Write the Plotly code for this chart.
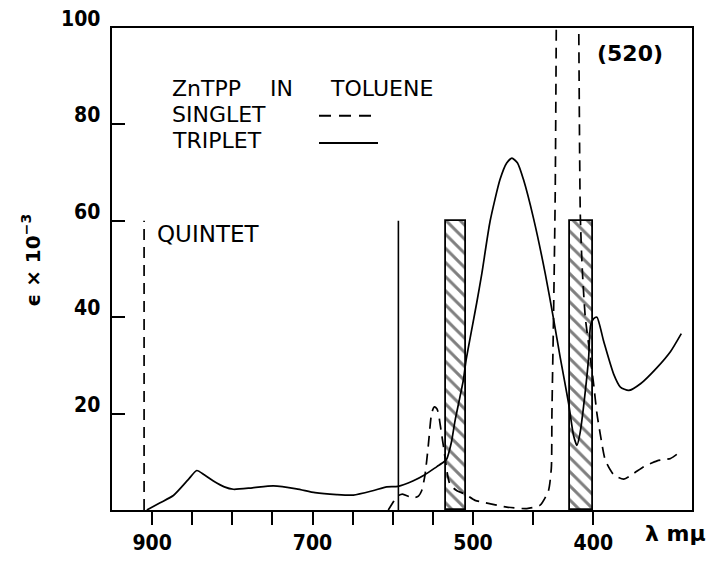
import numpy as np
import plotly.graph_objects as go

# ---------------- data (wavelength in nm, epsilon x 1e-3) ----------------
triplet_nm = [906.6, 890, 873.5, 855, 844.3, 835, 823.6, 810, 798.7, 775, 748.8, 720,
              696.9, 670, 649.1, 625, 607.5, 593.5, 575, 560, 545, 537, 533, 527,
              522.4, 512, 508.7, 496.9, 492.7, 485.8, 477.5, 472, 467.7, 463, 458.1,
              449.7, 440, 433.1, 427.5, 420.6, 416.4, 413.6, 411, 408.1, 403.9, 402.3,
              399.7, 397, 391.4, 383.1, 377.5, 370.6, 360.8, 346.9, 335.8, 326.9]
triplet_eps = [0.0, 1.5, 3.0, 6.3, 8.2, 7.3, 6.0, 4.8, 4.3, 4.6, 5.0, 4.4,
               3.6, 3.2, 3.1, 4.0, 4.8, 4.9, 6.0, 7.3, 9.0, 9.9, 10.5, 14.0,
               18.5, 27.0, 31.0, 43.0, 49.0, 59.9, 68.6, 72.0, 73.0, 72.0, 68.6,
               60.5, 49.1, 39.7, 31.6, 22.2, 15.4, 13.4, 16.0, 21.5, 31.6, 38.3,
               39.7, 40.0, 35.0, 28.2, 25.5, 24.8, 26.2, 29.6, 32.9, 36.6]

singlet_nm = [605.6, 600, 595, 588, 580, 574, 568, 564, 559.8, 555.7, 551.5, 548.2,
              545, 543.2, 537, 528.7, 520, 510, 498.3, 491.4, 471.9, 455.3, 444.2,
              437.3, 434.9, 434.4, 433.1, 431.7, 430.8, 428, 422, 416, 412.1,
              410.8, 409.2, 406.7, 404.2, 399.7, 397, 394.2, 390, 383, 374.7,
              366.4, 358, 347, 335.8, 329.7]
singlet_eps = [0.0, 1.5, 2.8, 3.3, 2.8, 2.5, 2.9, 4.0, 7.3, 13.4, 20.1, 21.4,
               21.0, 20.1, 13.4, 5.3, 4.0, 3.3, 2.0, 1.6, 0.6, 0.3, 1.0,
               4.0, 8.7, 20.1, 39.7, 65.0, 100.0, 250.0, 520.0, 250.0, 100.0,
               61.0, 50.0, 40.0, 35.0, 26.0, 20.0, 15.7, 10.3, 7.3, 6.4,
               7.6, 9.0, 10.2, 10.7, 11.7]

quintet_nm = [910, 910]
quintet_eps = [0, 60]
triplet_level_nm = [593, 593]
triplet_level_eps = [0, 60]

window_start_nm = [534, 419]
window_end_nm = [509, 400]
window_height = [60, 60]

x_tick_nm = [900, 700, 500, 400]
x_tick_text = ["900", "700", "500", "400"]
x_minor_tick_nm = [850, 800, 750, 650, 600, 550, 450]
y_tick_vals = [20, 40, 60, 80, 100]
y_tick_text = ["20", "40", "60", "80", "100"]


# broken wavelength scale: 900-500 nm at one scale, below 500 nm stretched 1.5x
def to_u(nm):
    nm = np.asarray(nm, dtype=float)
    return np.where(nm >= 500, 900 - nm, 400 + (500 - nm) * 1.5)


# figure pixel geometry
W, H = 717, 567
L, R, T, B = 112, 25, 28, 44
pw, ph = W - L - R, H - T - B


def px(x):
    return (x - L) / pw


def py(y):
    return (H - B - y) / ph


LINE_FONT = "DejaVu Sans"
TICK_FONT = "DejaVu Sans Condensed, DejaVu Sans"

fig = go.Figure()

u_start = to_u(window_start_nm)
u_end = to_u(window_end_nm)
fig.add_trace(go.Bar(
    x=(u_start + u_end) / 2, y=window_height, width=u_end - u_start,
    marker=dict(color="white", line=dict(color="black", width=1.8),
                pattern=dict(shape="\\", size=10, solidity=0.3,
                             fgcolor="black", bgcolor="white")),
    showlegend=False, hoverinfo="skip"))

fig.add_trace(go.Scatter(x=to_u(quintet_nm), y=quintet_eps, mode="lines",
                         line=dict(color="black", width=1.7, dash="11px,7px"),
                         showlegend=False))
fig.add_trace(go.Scatter(x=to_u(triplet_level_nm), y=triplet_level_eps, mode="lines",
                         line=dict(color="black", width=1.6), showlegend=False))
fig.add_trace(go.Scatter(x=to_u(singlet_nm), y=singlet_eps, mode="lines",
                         line=dict(color="black", width=1.7, dash="11px,7px",
                                   shape="spline", smoothing=0.6),
                         showlegend=False))
fig.add_trace(go.Scatter(x=to_u(triplet_nm), y=triplet_eps, mode="lines",
                         line=dict(color="black", width=1.7,
                                   shape="spline", smoothing=0.6),
                         showlegend=False))

annotations = [
    dict(x=px(170), y=py(90), text="ZnTPP", xanchor="left", yanchor="middle",
         font=dict(family=LINE_FONT, size=22)),
    dict(x=px(268), y=py(90), text="IN", xanchor="left", yanchor="middle",
         font=dict(family=LINE_FONT, size=22)),
    dict(x=px(328), y=py(90), text="TOLUENE", xanchor="left", yanchor="middle",
         font=dict(family=LINE_FONT, size=22)),
    dict(x=px(170), y=py(117), text="SINGLET", xanchor="left", yanchor="middle",
         font=dict(family=LINE_FONT, size=22)),
    dict(x=px(170), y=py(144), text="TRIPLET", xanchor="left", yanchor="middle",
         font=dict(family=LINE_FONT, size=22)),
    dict(x=px(595), y=py(54), text="(520)", xanchor="left", yanchor="middle",
         font=dict(family=LINE_FONT, size=22, weight="bold")),
    dict(x=px(155), y=py(240), text="QUINTET", xanchor="left", yanchor="middle",
         font=dict(family=LINE_FONT, size=23)),
    dict(x=px(643), y=py(547), text="λ mμ", xanchor="left", yanchor="middle",
         font=dict(family=LINE_FONT, size=22, weight="bold")),
    dict(x=px(31), y=py(267), text="ϵ × 10<sup>−3</sup>", textangle=-90,
         xanchor="center", yanchor="middle",
         font=dict(family=LINE_FONT, size=20, weight="bold")),
]
for a in annotations:
    a.update(xref="paper", yref="paper", showarrow=False)

# y tick labels: placed through the y scale, drawn slightly above each tick
for v, t in zip(y_tick_vals, y_tick_text):
    annotations.append(dict(x=0, xref="paper", y=v, yref="y", text=t,
                            xanchor="right", yanchor="middle", xshift=-10, yshift=9,
                            showarrow=False,
                            font=dict(family=TICK_FONT, size=21, weight="bold")))

for a in annotations:
    a["font"]["color"] = "black"

shapes = [
    dict(type="line", xref="paper", yref="paper", x0=px(319), x1=px(378),
         y0=py(118), y1=py(118), line=dict(color="black", width=2, dash="12px,8px")),
    dict(type="line", xref="paper", yref="paper", x0=px(319), x1=px(378),
         y0=py(146), y1=py(146), line=dict(color="black", width=2)),
]

fig.update_layout(
    width=W, height=H, margin=dict(l=L, r=R, t=T, b=B),
    paper_bgcolor="white", plot_bgcolor="white",
    annotations=annotations, shapes=shapes, bargap=0,
    xaxis=dict(range=[-50, 673], tickmode="array", tickvals=to_u(x_tick_nm),
               ticktext=x_tick_text, ticks="outside", ticklen=13, tickwidth=2,
               tickcolor="black", showline=True, linewidth=2, linecolor="black",
               mirror=True, showgrid=False, zeroline=False,
               minor=dict(tickmode="array", tickvals=to_u(x_minor_tick_nm),
                          ticks="outside", ticklen=13, tickwidth=2,
                          tickcolor="black", showgrid=False),
               tickfont=dict(family=TICK_FONT, size=21, color="black", weight="bold")),
    yaxis=dict(range=[0, 100], tickmode="array", tickvals=y_tick_vals,
               ticktext=y_tick_text, showticklabels=False,
               ticks="inside", ticklen=13, tickwidth=2,
               tickcolor="black", showline=True, linewidth=2, linecolor="black",
               mirror=True, showgrid=False, zeroline=False),
)

fig.write_html("out.html")
